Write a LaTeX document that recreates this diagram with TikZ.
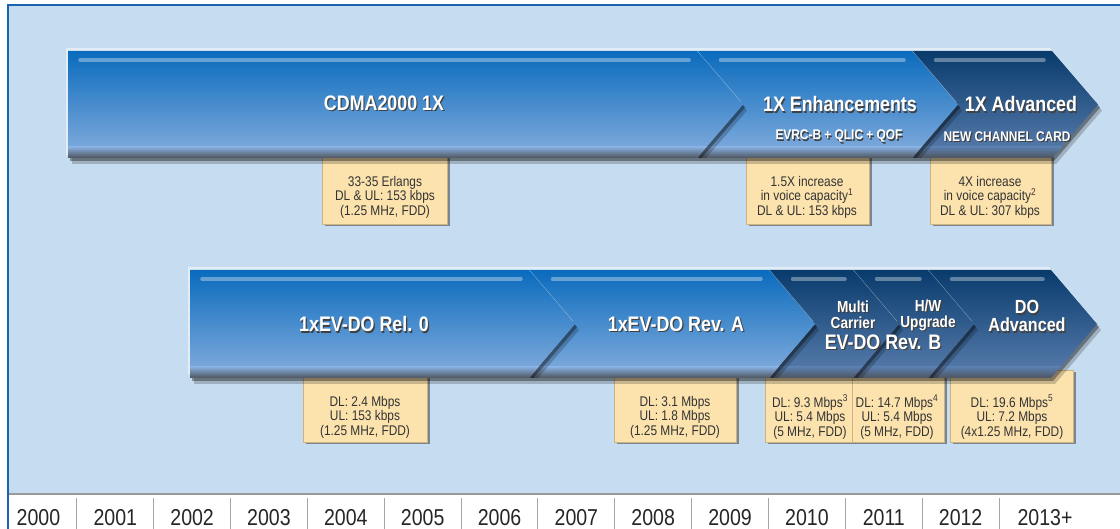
\documentclass[tikz,border=0pt]{standalone}
\usepackage{fontspec}
\setmainfont{Liberation Sans}[FakeStretch=0.85]

\definecolor{bgblue}{HTML}{C6DCF0}
\definecolor{frameblue}{HTML}{1B63B0}
\definecolor{chevtop}{HTML}{0A6BBD}
\definecolor{chevbot}{HTML}{86AEDE}
\definecolor{darktop}{HTML}{083B6C}
\definecolor{darkbot}{HTML}{5A7EAE}
\definecolor{stripbot}{HTML}{4E545C}
\definecolor{boxfill}{HTML}{FCE3AE}
\definecolor{boxline}{HTML}{CDB283}

% text with a small drop shadow
\newcommand{\sh}[1]{\leavevmode\rlap{\hspace{1.2pt}\raisebox{-1.2pt}{\textcolor{black!75}{#1}}}#1}

% #1 left, #2 right, #3 top, #4 bottom, #5 notch depth, #6 colour prefix
\newcommand{\chevron}[6]{%
  \begin{scope}[shift={(-2,-3)}]
    \fill[glowfill] (#1,#3) -- (#2,#3) -- ({#2+46},{(#3+#4)/2}) -- (#2,#4) -- (#1,#4) -- ({#1+#5},{(#3+#4)/2}) -- cycle;
  \end{scope}
  \begin{scope}[shift={(2,3)}]
    \fill[shadowfill] (#1,#3) -- (#2,#3) -- ({#2+46},{(#3+#4)/2}) -- (#2,#4) -- (#1,#4) -- ({#1+#5},{(#3+#4)/2}) -- cycle;
  \end{scope}
  \begin{scope}[shift={(4,6)}]
    \fill[shadowfill, opacity=.2] (#1,#3) -- (#2,#3) -- ({#2+46},{(#3+#4)/2}) -- (#2,#4) -- (#1,#4) -- ({#1+#5},{(#3+#4)/2}) -- cycle;
  \end{scope}
  \shade[top color=#6top, bottom color=#6bot] (#1,#3) -- (#2,#3) -- ({#2+46},{(#3+#4)/2}) -- (#2,#4) -- (#1,#4) -- ({#1+#5},{(#3+#4)/2}) -- cycle;
  \begin{scope}
    \clip (#1,#3) -- (#2,#3) -- ({#2+46},{(#3+#4)/2}) -- (#2,#4) -- (#1,#4) -- ({#1+#5},{(#3+#4)/2}) -- cycle;
    \shade[top color=#6bot, bottom color=stripbot] (#1-2,#4-11) rectangle (#2+50,#4);
  \end{scope}
  \draw[highlight] ({#1+12+#5/4},{#3+9}) -- ({#2-8},{#3+9});
}

\tikzset{
  glowfill/.style={white, opacity=.5},
  shadowfill/.style={black, opacity=.35},
  highlight/.style={white, opacity=.35, line width=3.5pt, line cap=round},
  infobox/.style={fill=boxfill, draw=boxline, line width=.6pt},
  boxshadow/.style={black!70, opacity=.6},
  chevtitle/.style={text=white, font=\fontsize{21}{22}\selectfont\bfseries, inner sep=0pt},
  subtitle/.style={text=white, font=\fontsize{14}{15}\selectfont\bfseries, inner sep=0pt},
  stacked/.style={text=white, font=\fontsize{16}{16}\selectfont\bfseries, align=center, inner sep=0pt},
  boxtext/.style={text=black!80, font=\fontsize{14}{14.5}\selectfont, align=center, inner sep=0pt},
  yearlabel/.style={text=black!85, font=\fontsize{23}{23}\selectfont, inner sep=0pt},
  yearsep/.style={black!35, line width=1pt},
}

\begin{document}
\begin{tikzpicture}[x=1pt, y=-1pt]
  \useasboundingbox (0,0) rectangle (1120,529);
  % frame and year strip
  \fill[white] (0,0) rectangle (1120,529);
  \fill[bgblue] (8,5) rectangle (1120,494);
  \draw[black!40, line width=1.2pt] (8,494) -- (1120,494);
  \draw[frameblue, line width=1.3pt] (8,529) -- (8,5) -- (1120,5);
  \foreach \s in {1,...,13}
    \draw[yearsep] ({76.85*\s},498) -- ({76.85*\s},529);
  \foreach \yr [count=\i] in {2000,...,2012}
    \node[yearlabel] (yr\yr) at ({76.85*(\i-0.5)},518) {\yr};
  \node[yearlabel] (yrlast) at (1045,518) {2013+};

  % data boxes
  \foreach \bl/\br/\bt/\bb in {322/447/150/224, 746/869/150/224, 930/1051/150/224,
      303/427/370/442, 614/736/370/442, 765/852/370/442, 852/944/370/442, 950/1073/370/442} {
    \fill[boxshadow] (\bl+2.5,\bt+2.5) rectangle (\br+2.5,\bb+2.5);
    \filldraw[infobox] (\bl,\bt) rectangle (\br,\bb);
  }

  % chevrons, right to left
  \chevron{912}{1052}{51}{158}{46}{dark}
  \chevron{697}{912}{51}{158}{46}{chev}
  \chevron{68}{697}{51}{158}{0}{chev}
  \chevron{928}{1051}{270}{378}{46}{dark}
  \chevron{853}{928}{270}{378}{46}{dark}
  \chevron{769}{853}{270}{378}{46}{dark}
  \chevron{529}{769}{270}{378}{46}{chev}
  \chevron{190}{529}{270}{378}{0}{chev}

  % titles
  \node[chevtitle] (cdma) at (384,104) {\sh{CDMA2000 1X}};
  \node[chevtitle] (enh) at (840,105) {\sh{1X Enhancements}};
  \node[subtitle] (enhsub) at (839,137) {\sh{EVRC-B + QLIC + QOF}};
  \node[chevtitle] (adv) at (1021,105) {\sh{1X Advanced}};
  \node[subtitle] (advsub) at (1007,137) {\sh{NEW CHANNEL CARD}};
  \node[chevtitle] (relzero) at (364,325) {\sh{1xEV-DO Rel. 0}};
  \node[chevtitle] (reva) at (676,325) {\sh{1xEV-DO Rev. A}};
  \node[stacked] (multi) at (853,315) {\sh{Multi}\\\sh{Carrier}};
  \node[stacked] (hwup) at (928,316) {\sh{H/W}\\\sh{Upgrade}};
  \node[chevtitle] (revb) at (883,343) {\sh{EV-DO Rev. B}};
  \node[stacked, font=\fontsize{19}{18}\selectfont\bfseries] (doadv) at (1027,317) {\sh{DO}\\\sh{Advanced}};

  % box texts
  \node[boxtext] (cdmainfo) at (385,197) {33-35 Erlangs\\DL \& UL: 153 kbps\\(1.25 MHz, FDD)};
  \node[boxtext] (enhinfo) at (807,197) {1.5X increase\\in voice capacity\textsuperscript{1}\\DL \& UL: 153 kbps};
  \node[boxtext] (advinfo) at (990,197) {4X increase\\in voice capacity\textsuperscript{2}\\DL \& UL: 307 kbps};
  \node[boxtext] (relzeroinfo) at (365,417) {DL: 2.4 Mbps\\UL: 153 kbps\\(1.25 MHz, FDD)};
  \node[boxtext] (revainfo) at (675,417) {DL: 3.1 Mbps\\UL: 1.8 Mbps\\(1.25 MHz, FDD)};
  \node[boxtext] (multiinfo) at (810,417) {DL: 9.3 Mbps\textsuperscript{3}\\UL: 5.4 Mbps\\(5 MHz, FDD)};
  \node[boxtext] (hwinfo) at (897,417) {DL: 14.7 Mbps\textsuperscript{4}\\UL: 5.4 Mbps\\(5 MHz, FDD)};
  \node[boxtext] (doadvinfo) at (1012,417) {DL: 19.6 Mbps\textsuperscript{5}\\UL: 7.2 Mbps\\(4x1.25 MHz, FDD)};
\end{tikzpicture}
\end{document}
